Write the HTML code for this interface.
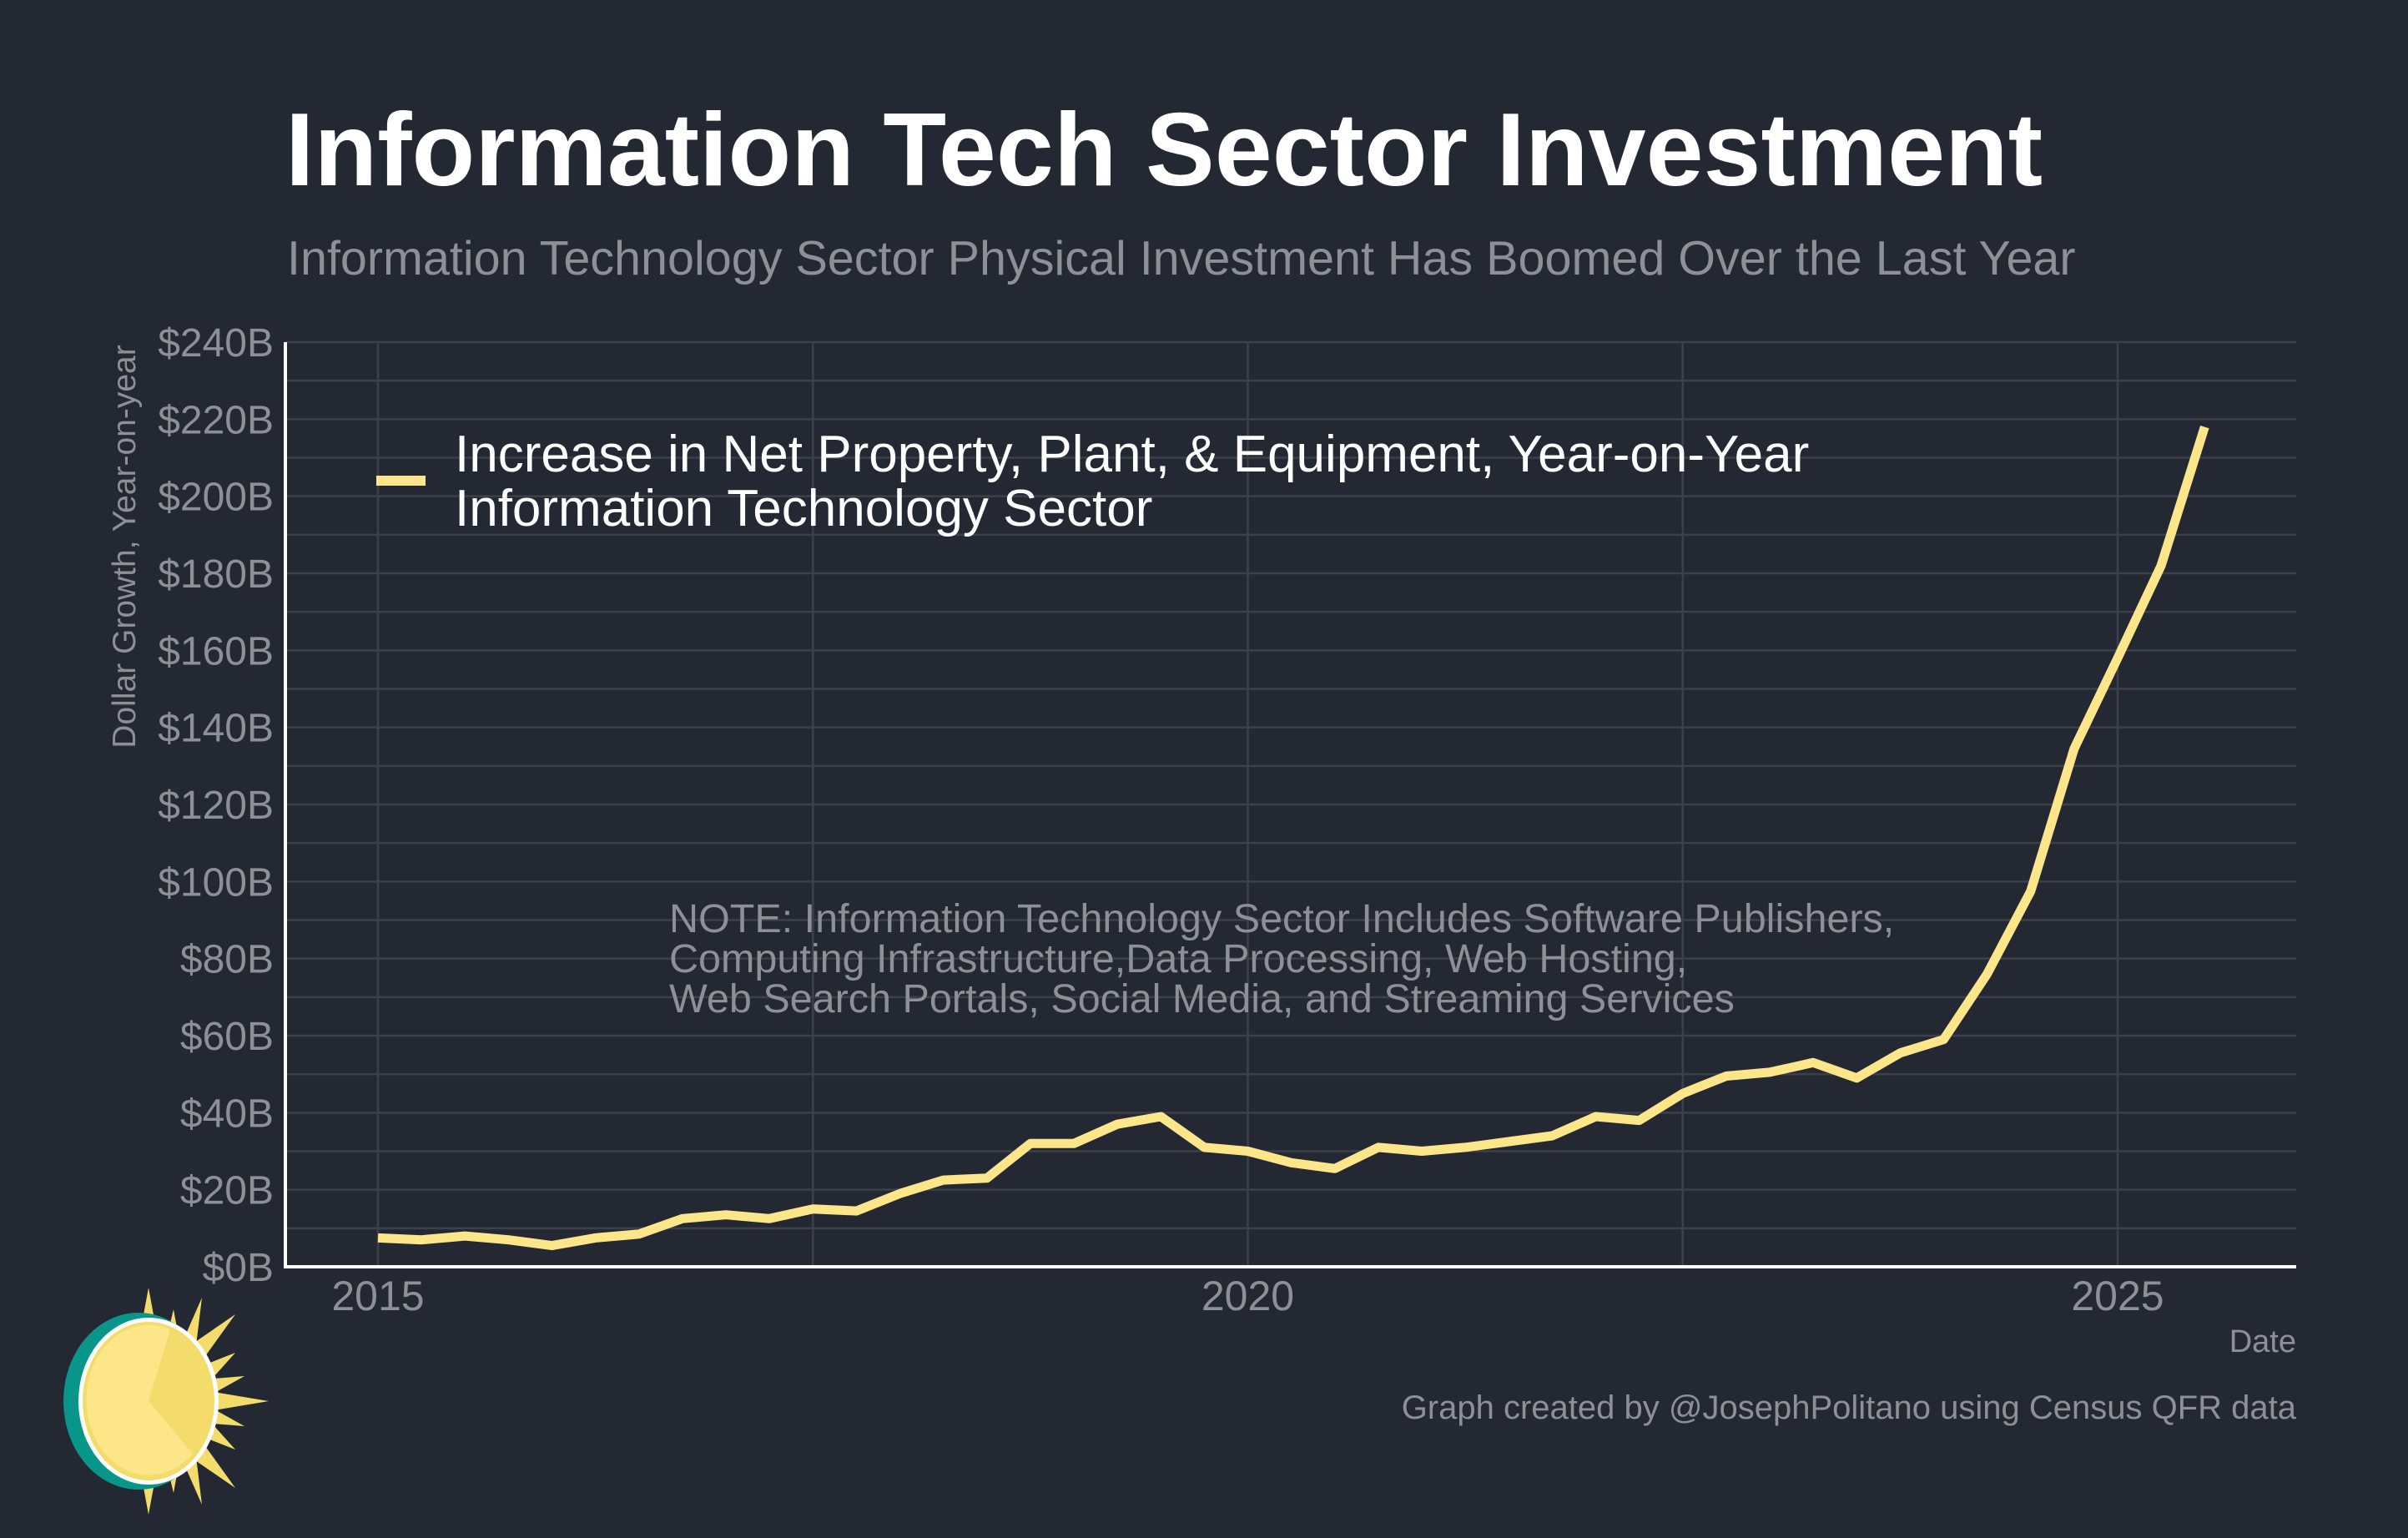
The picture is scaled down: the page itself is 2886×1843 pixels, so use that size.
<!DOCTYPE html>
<html><head><meta charset="utf-8"><style>
html,body{margin:0;padding:0;background:#242832;}
svg{display:block;font-family:"Liberation Sans",Arial,sans-serif;}
</style></head><body>
<svg id="chart" width="2886" height="1843" viewBox="0 0 2886 1843" xmlns="http://www.w3.org/2000/svg">
<rect width="2886" height="1843" fill="#242832"/>
<text x="342" y="222" font-size="124" font-weight="bold" fill="#ffffff">Information Tech Sector Investment</text>
<text x="344" y="329" font-size="57.5" fill="#8e9096">Information Technology Sector Physical Investment Has Boomed Over the Last Year</text>
<g id="grid"></g>
<g id="yticks"></g>
<g id="xticks"></g>
<text transform="translate(162,655) rotate(-90)" text-anchor="middle" font-size="39" fill="#8e9096">Dollar Growth, Year-on-year</text>
<text x="2752" y="1620" text-anchor="end" font-size="38" fill="#8e9096">Date</text>
<text x="2752" y="1700" text-anchor="end" font-size="40" fill="#8e9096">Graph created by @JosephPolitano using Census QFR data</text>
<g font-size="48.5" fill="#8e9096">
<text x="802" y="1117">NOTE: Information Technology Sector Includes Software Publishers,</text>
<text x="802" y="1165">Computing Infrastructure,Data Processing, Web Hosting,</text>
<text x="802" y="1213">Web Search Portals, Social Media, and Streaming Services</text>
</g>
<path id="series" fill="none" stroke="#fde68a" stroke-width="11" stroke-linejoin="round"/>
<line x1="342" y1="410" x2="342" y2="1518" stroke="#fff" stroke-width="4"/>
<line x1="340" y1="1518" x2="2752" y2="1518" stroke="#fff" stroke-width="4"/>
<g>
<rect x="451" y="570" width="59" height="12" fill="#fde68a"/>
<text x="545" y="565" font-size="62" fill="#ffffff">Increase in Net Property, Plant, &amp; Equipment, Year-on-Year</text>
<text x="545" y="630" font-size="62" fill="#ffffff">Information Technology Sector</text>
</g>
<g transform="translate(178,1679)">
<g fill="#f4dc6c">
<polygon points="0,-136 14,-60 -14,-60"/><polygon points="0,136 14,60 -14,60"/>
<polygon points="144,0 60,14 60,-14"/>
<polygon points="30,-110 40,-55 18,-60"/><polygon points="30,110 40,55 18,60"/>
<polygon points="104,-104 58,-40 40,-60"/><polygon points="104,104 58,40 40,60"/>
<polygon points="64,-124 55,-50 35,-58"/><polygon points="64,124 55,50 35,58"/>
<polygon points="104,-58 70,-20 58,-40"/><polygon points="104,58 70,20 58,40"/>
<polygon points="115,-30 72,-6 66,-26"/><polygon points="115,30 72,6 66,26"/>
</g>
<ellipse cx="-12" cy="0" rx="90" ry="106" fill="#08968a"/>
<ellipse cx="0" cy="0" rx="84" ry="100" fill="#fff"/>
<ellipse cx="0" cy="0" rx="79" ry="95" fill="#f4dc6c"/>
<path d="M0,0 L26,-86 A75,90 0 1 0 53,63 Z" fill="#fde68a"/>
</g>
<script>
const quarters = [2015.0,2015.25,2015.5,2015.75,2016.0,2016.25,2016.5,2016.75,2017.0,2017.25,2017.5,2017.75,2018.0,2018.25,2018.5,2018.75,2019.0,2019.25,2019.5,2019.75,2020.0,2020.25,2020.5,2020.75,2021.0,2021.25,2021.5,2021.75,2022.0,2022.25,2022.5,2022.75,2023.0,2023.25,2023.5,2023.75,2024.0,2024.25,2024.5,2024.75,2025.0,2025.25,2025.5];
const values = [7.5,7,8,7,5.5,7.5,8.5,12.5,13.5,12.5,15,14.5,19,22.5,23,32,32,37,39,31,30,27,25.5,31,30,31,32.5,34,39,38,45,49.5,50.5,53,49,55.5,59,76,97.5,134.5,158,182,218];
const yTicks = [0,20,40,60,80,100,120,140,160,180,200,220,240];
const yTickLabels = ["$0B","$20B","$40B","$60B","$80B","$100B","$120B","$140B","$160B","$180B","$200B","$220B","$240B"];
const xTicks = [2015,2020,2025];
const xTickLabels = ["2015","2020","2025"];
const xMinor = [2017.5,2022.5];
const NS="http://www.w3.org/2000/svg";
function xs(t){return 453+(t-2015)*208.5;}
function ys(v){return 1518-(v/240)*1108;}
const grid=document.getElementById('grid');
for(let v=0;v<=240;v+=10){const l=document.createElementNS(NS,'line');


l.setAttribute('x1',342);l.setAttribute('x2',2752);l.setAttribute('y1',ys(v));l.setAttribute('y2',ys(v));
l.setAttribute('stroke','#3c404a');l.setAttribute('stroke-width','2.5');grid.appendChild(l);}
xTicks.concat(xMinor).forEach(t=>{const l=document.createElementNS(NS,'line');


l.setAttribute('x1',xs(t));l.setAttribute('x2',xs(t));l.setAttribute('y1',410);l.setAttribute('y2',1518);
l.setAttribute('stroke','#3c404a');l.setAttribute('stroke-width','2.5');grid.appendChild(l);});
const yg=document.getElementById('yticks');
yTicks.forEach((v,i)=>{const t=document.createElementNS(NS,'text');


t.setAttribute('x',328);t.setAttribute('y',ys(v)+17);t.setAttribute('text-anchor','end');
t.setAttribute('font-size','48');t.setAttribute('fill','#8e9096');t.textContent=yTickLabels[i];yg.appendChild(t);});
const xg=document.getElementById('xticks');
xTicks.forEach((v,i)=>{const t=document.createElementNS(NS,'text');


t.setAttribute('x',xs(v));t.setAttribute('y',1570);t.setAttribute('text-anchor','middle');
t.setAttribute('font-size','50');t.setAttribute('fill','#8e9096');t.textContent=xTickLabels[i];xg.appendChild(t);});
document.getElementById('series').setAttribute('d',quarters.map((q,i)=>(i?'L':'M')+xs(q).toFixed(1)+','+ys(values[i]).toFixed(1)).join(' '));
</script>
</svg>
</body></html>
